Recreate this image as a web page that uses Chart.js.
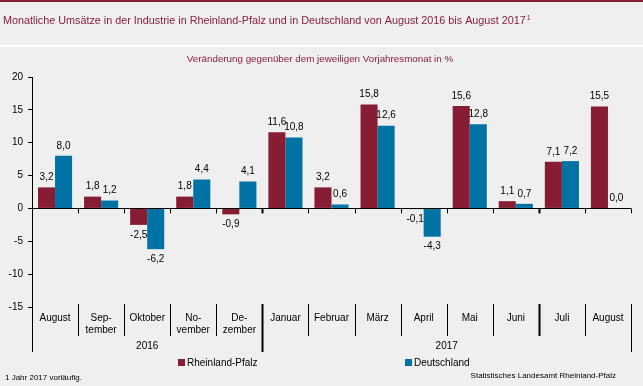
<!DOCTYPE html>
<html>
<head>
<meta charset="utf-8">
<script src="https://cdn.jsdelivr.net/npm/chart.js@4"></script>
<style>
  html, body { margin: 0; padding: 0; background: #eeefee; }
  #wrap { width: 643px; height: 386px; position: relative; }
</style>
</head>
<body>
<div id="wrap"><canvas id="chart"></canvas></div>
<script>
// Monatskategorien (mehrzeilig wie im Original)
const categories = [
  ['August'], ['Sep-', 'tember'], ['Oktober'], ['No-', 'vember'], ['De-', 'zember'],
  ['Januar'], ['Februar'], ['März'], ['April'], ['Mai'], ['Juni'], ['Juli'], ['August']
];
const years = [
  { label: '2016', from: 0, to: 4 },
  { label: '2017', from: 5, to: 12 }
];
const rlpValues = [3.2, 1.8, -2.5, 1.8, -0.9, 11.6, 3.2, 15.8, -0.1, 15.6, 1.1, 7.1, 15.5];
const deValues = [8.0, 1.2, -6.2, 4.4, 4.1, 10.8, 0.6, 12.6, -4.3, 12.8, 0.7, 7.2, 0.0];
const seriesNames = ['Rheinland-Pfalz', 'Deutschland'];
const yMin = -15, yMax = 20, yStep = 5;

const COLOR_RLP = '#861d35';
const COLOR_DE = '#0072a3';
const TITLE_COLOR = '#8a1e3c';
const FONT = 'Arial, "Liberation Sans", sans-serif';
const TITLE = 'Monatliche Umsätze in der Industrie in Rheinland-Pfalz und in Deutschland von August 2016 bis August 2017';

const fmt = (v) => v.toFixed(1).replace('.', ',');

// Hintergrund, Titel, Achse, Tabelle, Legende
const decorPlugin = {
  id: 'decor',
  beforeDraw: (chart) => {
    const c = chart.ctx;
    c.save();
    c.fillStyle = '#eeefee';
    c.fillRect(0, 0, chart.width, chart.height);
    c.fillStyle = '#861d35';
    c.fillRect(0, 0, chart.width, 2);
    c.fillStyle = '#ffffff';
    c.fillRect(0, 45, chart.width, 2);

    c.fillStyle = TITLE_COLOR;
    c.font = '10.8px ' + FONT;
    c.textBaseline = 'middle';
    c.textAlign = 'left';
    c.fillText(TITLE, 3, 21);
    const w = c.measureText(TITLE).width;
    c.font = '7px ' + FONT;
    c.fillText('1', 3 + w + 1, 18);

    c.font = '9.8px ' + FONT;
    c.textAlign = 'center';
    c.fillText('Veränderung gegenüber dem jeweiligen Vorjahresmonat in %', 320, 59);
    c.restore();
  },
  afterDraw: (chart) => {
    const c = chart.ctx;
    const area = chart.chartArea;
    const x = chart.scales.x;
    const y = chart.scales.y;
    const n = categories.length;
    const catW = (area.right - area.left) / n;
    const y0 = y.getPixelForValue(0);
    const tableTop = area.bottom - 3;
    const tableBottom = area.bottom + 29;
    const yearBottom = area.bottom + 45;

    c.save();
    c.strokeStyle = '#000';
    c.lineWidth = 1;

    // Nulllinie mit Teilstrichen
    c.beginPath();
    c.moveTo(area.left, Math.round(y0) + 0.5);
    c.lineTo(area.right, Math.round(y0) + 0.5);
    c.stroke();
    for (let i = 1; i <= n; i++) {
      const bx = Math.round(area.left + i * catW) + 0.5;
      const thick = (i === 5 || i === 11);
      c.lineWidth = thick ? 2 : 1;
      c.beginPath();
      c.moveTo(bx, y0);
      c.lineTo(bx, y0 + 5);
      c.stroke();
    }

    // y-Achse nach unten verlängern
    c.lineWidth = 1;
    c.beginPath();
    c.moveTo(Math.round(area.left) + 0.5, area.bottom);
    c.lineTo(Math.round(area.left) + 0.5, yearBottom);
    c.stroke();

    // Tabellenlinien
    for (let i = 1; i <= n; i++) {
      const bx = Math.round(area.left + i * catW) + 0.5;
      const isYear = (i === 5 || i === n);
      const thick = (i === 5 || i === 11);
      c.lineWidth = thick ? 2 : 1;
      c.beginPath();
      c.moveTo(bx, tableTop);
      c.lineTo(bx, isYear ? yearBottom : tableBottom);
      c.stroke();
    }

    // Kategorienbeschriftung
    c.fillStyle = '#000';
    c.font = '10px ' + FONT;
    c.textAlign = 'center';
    c.textBaseline = 'middle';
    categories.forEach((lines, i) => {
      const cx = x.getPixelForValue(i);
      lines.forEach((t, k) => c.fillText(t, cx, area.bottom + 11 + k * 12));
    });
    years.forEach((yr) => {
      const cx = (area.left + yr.from * catW + area.left + (yr.to + 1) * catW) / 2;
      c.fillText(yr.label, cx, area.bottom + 39);
    });

    // Datenbeschriftung
    chart.data.datasets.forEach((ds, di) => {
      const meta = chart.getDatasetMeta(di);
      meta.data.forEach((bar, i) => {
        const v = ds.data[i];
        const ty = v >= 0 ? bar.y - 10 : bar.y + 10;
        c.fillText(fmt(v), bar.x, ty);
      });
    });

    // Legende
    const legY = area.bottom + 56;
    const items = [
      { label: seriesNames[0], color: COLOR_RLP, x: 178 },
      { label: seriesNames[1], color: COLOR_DE, x: 405 }
    ];
    c.textAlign = 'left';
    items.forEach((it) => {
      c.fillStyle = it.color;
      c.fillRect(it.x, legY - 4, 7, 7);
      c.fillStyle = '#000';
      c.fillText(it.label, it.x + 9, legY);
    });

    // Fußnote und Quelle
    c.font = '8px ' + FONT;
    c.fillText('1 Jahr 2017 vorläufig.', 5, 378);
    c.textAlign = 'right';
    c.fillText('Statistisches Landesamt Rheinland-Pfalz', 616, 376);
    c.restore();
  }
};

new Chart(document.getElementById('chart'), {
  type: 'bar',
  data: {
    labels: categories.map(l => l.join('')),
    datasets: [
      { label: seriesNames[0], data: rlpValues, backgroundColor: COLOR_RLP, borderWidth: 0 },
      { label: seriesNames[1], data: deValues, backgroundColor: COLOR_DE, borderWidth: 0 }
    ]
  },
  options: {
    responsive: true,
    maintainAspectRatio: false,
    animation: false,
    layout: { padding: { left: 0, right: 12, top: 77, bottom: 79 } },
    datasets: { bar: { categoryPercentage: 0.74, barPercentage: 1.0 } },
    scales: {
      x: { display: false, offset: true },
      y: {
        min: yMin, max: yMax,
        afterFit: (s) => { s.width = 32; },
        border: { display: true, color: '#000', width: 1 },
        grid: { drawOnChartArea: false, drawTicks: true, tickLength: 4, color: '#000' },
        ticks: { stepSize: yStep, padding: 5, color: '#000', font: { size: 10, family: FONT } }
      }
    },
    plugins: {
      legend: { display: false },
      tooltip: { enabled: false }
    }
  },
  plugins: [decorPlugin]
});
</script>
</body>
</html>
